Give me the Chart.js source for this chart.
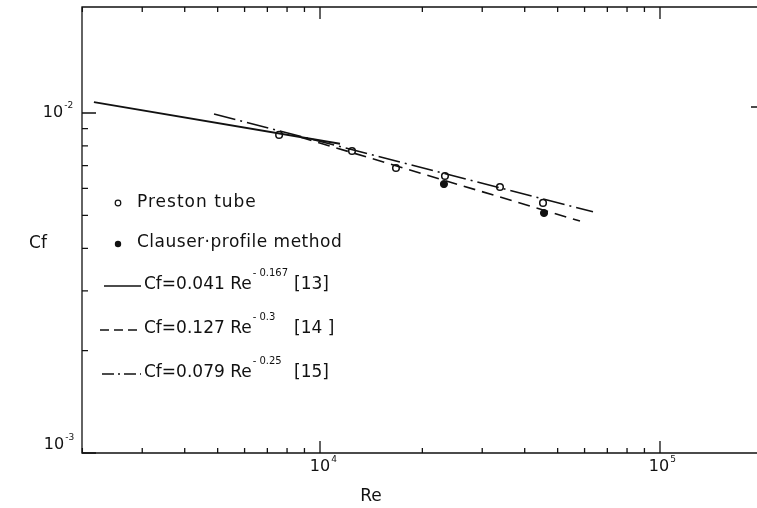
<!DOCTYPE html>
<html>
<head>
<meta charset="utf-8">
<script src="https://cdn.jsdelivr.net/npm/chart.js@4"></script>
<style>
  body { margin: 0; background: #fff; }
  canvas { display: block; }
</style>
</head>
<body>
<canvas id="cf-chart" width="757" height="508"></canvas>
<script>
// values (Re, Cf)
const prestonRe = [7580, 12420, 16730, 23310, 33830, 45280];
const prestonCf = [0.00862, 0.00773, 0.00689, 0.00653, 0.00606, 0.00544];

const clauserRe = [23150, 45590];
const clauserCf = [0.00618, 0.00508];

// fitted laws, end points of the drawn lines
const solidRe = [2163, 11450];
const solidCf = [0.01077, 0.00812];
const dashRe = [8730, 58170];
const dashCf = [0.0085, 0.00481];
const dashDotRe = [4878, 63530];
const dashDotCf = [0.00993, 0.00512];

// tick positions
const xTicks = [2000, 3000, 4000, 5000, 6000, 7000, 8000, 9000, 10000,
  20000, 30000, 40000, 50000, 60000, 70000, 80000, 90000, 100000];
const xMajor = [10000, 100000];
const yTicks = [0.001, 0.002, 0.003, 0.004, 0.005, 0.006, 0.007, 0.008, 0.009, 0.01];
const yMajor = [0.001, 0.01];

const pts = (xs, ys) => xs.map((x, i) => ({ x: x, y: ys[i] }));
const INK = '#111';
const FONT = '"DejaVu Sans", sans-serif';

function txt(ctx, s, x, y, size, align) {
  ctx.font = size + 'px ' + FONT;
  ctx.textAlign = align || 'left';
  ctx.textBaseline = 'middle';
  ctx.fillText(s, x, y);
}

function pow10(ctx, exp, x, y) {
  // "10" centred at x,y with a small exponent
  ctx.font = '16px ' + FONT;
  const w = ctx.measureText('10').width;
  txt(ctx, '10', x, y, 16, 'center');
  txt(ctx, exp, x + w / 2 + 1, y - 7, 9, 'left');
}

const framePlugin = {
  id: 'frame',
  afterDraw(chart) {
    const ctx = chart.ctx;
    const a = chart.chartArea;
    const xs = chart.scales.x, ys = chart.scales.y;
    ctx.save();
    ctx.strokeStyle = INK;
    ctx.fillStyle = INK;
    ctx.lineWidth = 1.3;
    ctx.beginPath();
    ctx.moveTo(a.right, a.top); ctx.lineTo(a.left, a.top);
    ctx.lineTo(a.left, a.bottom); ctx.lineTo(a.right, a.bottom);
    ctx.stroke();

    ctx.beginPath();
    xTicks.forEach(v => {
      const px = xs.getPixelForValue(v);
      const len = xMajor.includes(v) ? 12 : 5;
      ctx.moveTo(px, a.bottom); ctx.lineTo(px, a.bottom - len);
      ctx.moveTo(px, a.top); ctx.lineTo(px, a.top + len);
    });
    yTicks.forEach(v => {
      const py = ys.getPixelForValue(v);
      const len = yMajor.includes(v) ? 14 : 6;
      ctx.moveTo(a.left, py); ctx.lineTo(a.left + len, py);
    });
    const p2 = ys.getPixelForValue(0.01) - 6;
    ctx.moveTo(a.right - 6, p2); ctx.lineTo(a.right, p2);
    ctx.stroke();

    // tick labels
    pow10(ctx, '-2', 53, ys.getPixelForValue(0.01));
    pow10(ctx, '-3', 54, ys.getPixelForValue(0.001) - 8);
    pow10(ctx, '4', xs.getPixelForValue(10000), a.bottom + 14);
    pow10(ctx, '5', xs.getPixelForValue(100000) - 1, a.bottom + 14);

    // axis titles
    txt(ctx, 'Cf', 38, 244, 17, 'center');
    txt(ctx, 'Re', 371, 497, 17, 'center');

    // legend
    ctx.letterSpacing = '1px';
    ctx.lineWidth = 1.2;
    ctx.beginPath(); ctx.arc(118, 203, 2.8, 0, Math.PI * 2); ctx.stroke();
    txt(ctx, 'Preston tube', 137, 203, 17);
    ctx.letterSpacing = '0.5px';
    ctx.beginPath(); ctx.arc(118, 244, 3.2, 0, Math.PI * 2); ctx.fill();
    txt(ctx, 'Clauser\u00b7profile method', 137, 243, 17);

    const rows = [
      { y: 285, dash: [], from: 104, coef: 'Cf=0.041 Re', exp: '- 0.167', ref: '[13]' },
      { y: 329, dash: [9, 5], from: 100, coef: 'Cf=0.127 Re', exp: '- 0.3', ref: '[14 ]' },
      { y: 373, dash: [12, 4, 2, 4], from: 102, coef: 'Cf=0.079 Re', exp: '- 0.25', ref: '[15]' }
    ];
    rows.forEach(r => {
      ctx.lineWidth = 1.5;
      ctx.setLineDash(r.dash);
      ctx.beginPath(); ctx.moveTo(r.from, r.y + 1); ctx.lineTo(141, r.y + 1); ctx.stroke();
      ctx.setLineDash([]);
      ctx.letterSpacing = '0px';
      txt(ctx, r.coef, 144, r.y, 17);
      ctx.font = '17px ' + FONT;
      const w = ctx.measureText(r.coef).width;
      txt(ctx, r.exp, 144 + w + 1, r.y - 12, 10);
      txt(ctx, r.ref, 294, r.y, 17);
    });
    ctx.restore();
  }
};

const ctx = document.getElementById('cf-chart').getContext('2d');
const chart = new Chart(ctx, {
  type: 'scatter',
  data: {
    datasets: [
      {
        label: 'Cf=0.041 Re^-0.167 [13]',
        data: pts(solidRe, solidCf),
        showLine: true, borderColor: INK, borderWidth: 1.8, pointRadius: 0
      },
      {
        label: 'Cf=0.127 Re^-0.3 [14]',
        data: pts(dashRe, dashCf),
        showLine: true, borderColor: INK, borderWidth: 1.6, pointRadius: 0,
        borderDash: [12, 7]
      },
      {
        label: 'Cf=0.079 Re^-0.25 [15]',
        data: pts(dashDotRe, dashDotCf),
        showLine: true, borderColor: INK, borderWidth: 1.6, pointRadius: 0,
        borderDash: [22, 5, 2, 5]
      },
      {
        label: 'Preston tube',
        data: pts(prestonRe, prestonCf),
        pointRadius: 3.3, borderWidth: 1.5,
        borderColor: INK, backgroundColor: '#fff'
      },
      {
        label: 'Clauser-profile method',
        data: pts(clauserRe, clauserCf),
        pointRadius: 3.6, borderWidth: 1,
        borderColor: INK, backgroundColor: INK
      }
    ]
  },
  options: {
    responsive: false,
    animation: false,
    devicePixelRatio: 1,
    layout: { autoPadding: false, padding: { left: 82, top: 7, right: 0, bottom: 55 } },
    plugins: { legend: { display: false }, tooltip: { enabled: false } },
    scales: {
      x: { type: 'logarithmic', min: 1995, max: 192900, display: false },
      y: { type: 'logarithmic', min: 0.001, max: 0.0205, display: false }
    }
  },
  plugins: [framePlugin]
});
</script>
</body>
</html>
